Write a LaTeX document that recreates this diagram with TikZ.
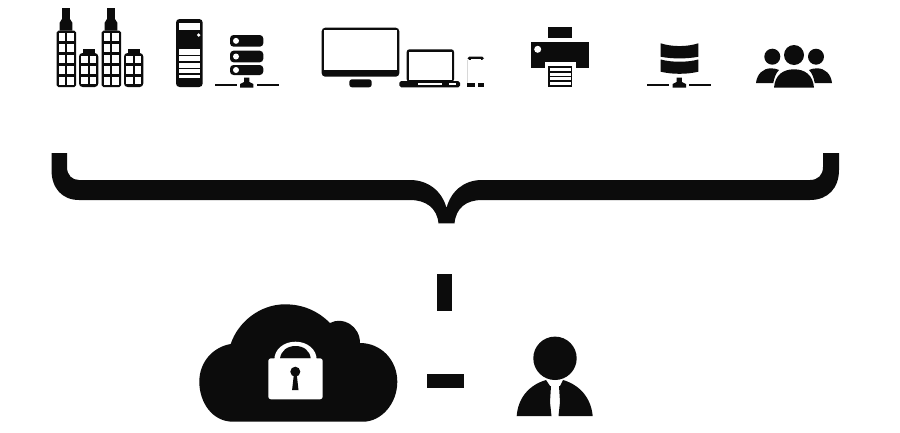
\documentclass[tikz,border=0pt]{standalone}
\usepackage{xcolor}
\definecolor{inkK}{HTML}{0C0C0C}
\definecolor{cFaint}{HTML}{D8D8D8}
\tikzset{
  inkfill/.style={fill=inkK, draw=none},
  cutfill/.style={fill=white, draw=none},
  % tall block, origin at its top left corner
  tallblock/.pic={
    \fill[inkfill] (5.7,-22.5) rectangle (12.8,-12);
    \fill[inkfill] (5.7,-12.5) -- (3,-8) -- (3,0) -- (15.6,0) -- (15.6,-8) -- (12.8,-12.5) -- cycle;
    \fill[inkfill, rounded corners=1pt] (0,0) rectangle (19.3,56.5);
    \foreach \row in {0,...,4} {
      \fill[cutfill] (2.3,{2.4+\row*11}) rectangle (8.7,{10.2+\row*11});
      \fill[cutfill] (10.6,{2.4+\row*11}) rectangle (17,{10.2+\row*11});
    }
  },
  lowblock/.pic={
    \fill[inkfill] (3.5,-4) rectangle (15.5,0);
    \fill[inkfill, rounded corners=2pt] (0,0) rectangle (19.3,34);
    \foreach \row in {0,...,2} {
      \fill[cutfill] (2.3,{2.8+\row*10.5}) rectangle (8.7,{10.2+\row*10.5});
      \fill[cutfill] (10.6,{2.8+\row*10.5}) rectangle (17,{10.2+\row*10.5});
    }
  },
  % network foot, origin at the centre of the bump
  netfoot/.pic={
    \fill[inkfill] (-32,-1.2) rectangle (-10,1.2);
    \fill[inkfill] (10,-1.2) rectangle (32,1.2);
    \fill[inkfill] (-6.7,2.6) -- (-6.7,-1) -- (-2.6,-3) -- (-2.6,-7.5) -- (2.6,-7.5) -- (2.6,-3)
      -- (6.7,-1) -- (6.7,2.6) -- cycle;
  }
}

\begin{document}
\begin{tikzpicture}[x=0.02cm, y=-0.02cm]
  \useasboundingbox (0,0) rectangle (900,433);
  \fill[white] (0,0) rectangle (900,433);

  % buildings
  \pic at (56.7,30.7) {tallblock};
  \pic at (101.7,30.7) {tallblock};
  \pic at (79,53) {lowblock};
  \pic at (124,53) {lowblock};

  % tower server
  \fill[inkfill, rounded corners=2pt] (176,19) rectangle (202.7,87);
  \fill[cutfill] (178.5,23) rectangle (200.2,30);
  \fill[cutfill] (198.7,35) circle (1.8);
  \foreach \ya/\yb in {49/54.5, 56/61, 62.5/67.5, 69/73, 74.5/78} {
    \fill[cutfill] (178.5,\ya) rectangle (200.2,\yb);
  }

  % rack
  \foreach \ya/\yb in {35/46.7, 50.7/62.3, 65/75} {
    \fill[inkfill, rounded corners=2pt] (230,\ya) rectangle (263.3,\yb);
    \fill[cutfill] (236,{(\ya+\yb)/2}) circle (3);
  }
  \pic at (246.7,85) {netfoot};

  % monitor
  \fill[inkfill, rounded corners=2pt] (321.7,27.7) rectangle (399.3,76.7);
  \fill[cutfill] (324,30) rectangle (396.9,70);
  \fill[inkfill, rounded corners=1.5pt] (349.3,79.3) rectangle (371.7,87.3);

  % laptop
  \fill[inkfill, rounded corners=1.5pt] (406.7,49.3) rectangle (454,82);
  \fill[cutfill] (409,51.5) rectangle (451.8,79.5);
  \fill[inkfill, rounded corners=1pt] (399.3,81) rectangle (460,87.3);
  \fill[cutfill] (418,82.7) rectangle (441.7,85.3);
  \fill[cutfill] (449,82.7) rectangle (456,85.3);

  % phone
  \draw[cFaint, line width=.4pt] (467.6,60) -- (467.6,83);
  \fill[inkfill, rounded corners=1pt] (467.3,56.7) rectangle (484,59.8);
  \fill[cutfill] (471,58.8) rectangle (480.5,60);
  \fill[inkfill] (467.3,82.7) rectangle (475,87.3);
  \fill[inkfill] (478,82.7) rectangle (484,87.3);

  % printer
  \fill[inkfill] (547.7,27.3) rectangle (572.3,38.3);
  \fill[inkfill] (530.7,42.3) rectangle (589.3,68.3);
  \fill[cutfill] (537.7,49.3) circle (3.5);
  \fill[cutfill] (545,61.7) rectangle (575.7,68.3);
  \fill[inkfill] (547.7,66) rectangle (572.3,87.3);
  \foreach \ya in {68,72.5,77,81.5} {
    \fill[cutfill] (549.5,\ya) rectangle (570.5,{\ya+3.2});
  }

  % database
  \fill[inkfill] (660.7,43.3) .. controls (672,47) and (687,47) .. (698.3,43.3)
    -- (698.3,56.7) .. controls (687,59) and (672,59) .. (660.7,56.7) -- cycle;
  \fill[inkfill] (660.7,59.5) .. controls (672,62.5) and (687,62.5) .. (698.3,59.5)
    -- (698.3,71.7) .. controls (687,74.5) and (672,74.5) .. (660.7,71.7) -- cycle;
  \pic at (679.3,85) {netfoot};

  % people
  \fill[inkfill] (794,55) circle (10);
  \fill[inkfill] (772.3,56.7) circle (8);
  \fill[inkfill] (816,56.7) circle (8);
  \fill[inkfill] (774,87.7) .. controls (775,75) and (783,69.3) .. (794,69.3)
    .. controls (805,69.3) and (813,75) .. (814,87.7) -- cycle;
  \fill[inkfill] (756,83) .. controls (757,74) and (763,68.3) .. (771,68.3)
    .. controls (774,68.3) and (777,69) .. (779,70)
    .. controls (776,73) and (774,78) .. (773.3,83) -- cycle;
  \fill[inkfill] (832,83) .. controls (831,74) and (825,68.3) .. (817,68.3)
    .. controls (814,68.3) and (811,69) .. (809,70)
    .. controls (812,73) and (814,78) .. (814.7,83) -- cycle;

  % brace
  \fill[inkfill] (51.5,153) -- (51.5,170) .. controls (51.5,188) and (62,200) .. (79,200)
    -- (410,200) .. controls (426,200) and (437,208) .. (438.5,223.3) -- (454.5,223.3)
    .. controls (456,208) and (466,200) .. (482,200) -- (810,200)
    .. controls (828,200) and (839,188) .. (839,170) -- (839,153) -- (823,153) -- (823,167)
    .. controls (823,175) and (818,180) .. (810,180) -- (482,180)
    .. controls (464,180) and (451,191) .. (446.5,208)
    .. controls (442,191) and (428,180) .. (410,180) -- (79,180)
    .. controls (72,180) and (67,175) .. (67,167) -- (67,153) -- cycle;

  % bars
  \fill[inkfill] (437.3,274.3) rectangle (451.7,311);
  \fill[inkfill] (427.3,374) rectangle (464.3,388.3);

  % cloud
  \fill[inkfill] (233,421.7) .. controls (212,421.7) and (199.3,402) .. (199.3,381.7)
    .. controls (199.3,362) and (213,347) .. (230.7,344)
    .. controls (238,322) and (260,304.3) .. (285,304.3)
    .. controls (303,304.3) and (318,311) .. (330,323)
    .. controls (343,316) and (360,326) .. (360,343)
    .. controls (381,343) and (397.3,360) .. (397.3,381.7)
    .. controls (397.3,404) and (381,421.7) .. (363,421.7) -- cycle;

  % lock
  \fill[cutfill] (274.3,362) -- (274.3,360) .. controls (274.3,349) and (284,341.7) .. (295.5,341.7)
    .. controls (307,341.7) and (316.7,349) .. (316.7,360) -- (316.7,362) -- cycle;
  \fill[inkfill] (280,358.5) .. controls (281,351) and (287,346) .. (295.5,346)
    .. controls (304,346) and (310,351) .. (310.7,358.5) -- cycle;
  \fill[cutfill, rounded corners=1.5pt] (268.3,358.3) rectangle (322.7,399.3);
  \fill[inkfill] (295.3,371.7) circle (5);
  \fill[inkfill] (293.8,375) -- (296.8,375) -- (298.5,390) -- (292.1,390) -- cycle;

  % person
  \fill[inkfill] (555,358.3) circle (21.7);
  \fill[inkfill] (516.7,416) .. controls (518,398) and (529,385) .. (546,380)
    -- (550,386) -- (551,386) -- (550,402) -- (551.5,416) -- cycle;
  \fill[inkfill] (592.7,416) .. controls (591,398) and (580,385) .. (563,380)
    -- (560,386) -- (559,386) -- (560,402) -- (558.5,416) -- cycle;
\end{tikzpicture}
\end{document}
